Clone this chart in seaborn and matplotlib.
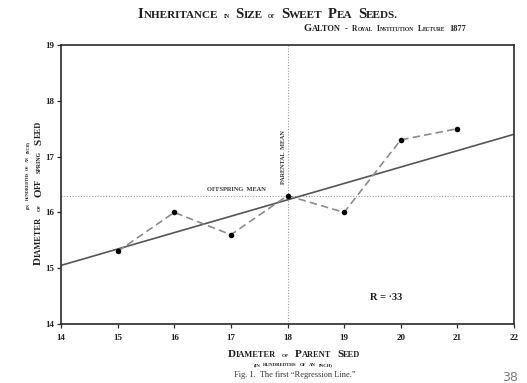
import matplotlib
matplotlib.use("Agg")
import matplotlib.pyplot as plt
import seaborn as sns
import pandas as pd

# Galton's sweet pea data (diameters in hundredths of an inch)
parent_diam = [15, 16, 17, 18, 19, 20, 21]
offspring_diam = [15.3, 16.0, 15.6, 16.3, 16.0, 17.3, 17.5]
reg_x = [14, 22]
reg_y = [15.05, 17.4]
parent_mean = 18
offspring_mean = 16.3
x_ticks = [14, 15, 16, 17, 18, 19, 20, 21, 22]
y_ticks = [14, 15, 16, 17, 18, 19]
r_label = "R = \u00b733"

W, H, DPI = 527, 383, 100
SERIF = "Liberation Serif"
INK = "#1e1e1e"

sns.set_theme(style="ticks")
plt.rcParams["font.family"] = [SERIF, "DejaVu Serif"]

fig = plt.figure(figsize=(W / DPI, H / DPI), dpi=DPI)
fig.patch.set_facecolor("white")
ax = fig.add_axes([61 / W, 1 - 324 / H, (514 - 61) / W, (324 - 45) / H])
ax.set_facecolor("white")

df = pd.DataFrame({"parent": parent_diam, "offspring": offspring_diam})
reg = pd.DataFrame({"x": reg_x, "y": reg_y})

# mean reference lines
ax.axhline(offspring_mean, color="#9a9a9a", lw=0.8, ls=(0, (1, 1.5)), zorder=1)
ax.axvline(parent_mean, color="#9a9a9a", lw=0.8, ls=(0, (1, 1.5)), zorder=1)

# regression line
sns.lineplot(data=reg, x="x", y="y", ax=ax, color="#555555", lw=1.2, zorder=2)
# observed means joined by a dashed line
sns.lineplot(data=df, x="parent", y="offspring", ax=ax, color="#8c8c8c",
             lw=1.2, dashes=False, zorder=3)
ax.lines[-1].set_dashes((4.5, 2.5))
sns.scatterplot(data=df, x="parent", y="offspring", ax=ax, color="black",
                s=16, edgecolor="black", linewidth=0, zorder=4)

ax.set_xlim(14, 22)
ax.set_ylim(14, 19)
ax.set_xticks(x_ticks)
ax.set_yticks(y_ticks)
ax.set_xticklabels([str(v) for v in x_ticks])
ax.set_yticklabels([str(v) for v in y_ticks])
ax.set_xlabel("")
ax.set_ylabel("")
for s in ax.spines.values():
    s.set_visible(True)
    s.set_color("#2a2a2a")
    s.set_linewidth(1.2)
ax.tick_params(axis="both", direction="out", length=3, width=0.9,
               colors="#2a2a2a", labelsize=6.5, pad=2)
for lab in ax.get_xticklabels() + ax.get_yticklabels():
    lab.set_fontweight("bold")
    lab.set_color(INK)
ax.tick_params(axis="x", pad=4)

ax.text(17.62, offspring_mean + 0.06, "OFFSPRING  MEAN", fontsize=4.6,
        fontweight="bold", color="#333333", ha="right", va="bottom")
ax.text(17.93, 16.5, "PARENTAL  MEAN", fontsize=4.4, fontweight="bold",
        color="#333333", rotation=90, rotation_mode="anchor",
        ha="left", va="center")
ax.text(19.45, 14.43, r_label, fontsize=7.5, fontweight="bold", color=INK,
        ha="left", va="baseline")

renderer = fig.canvas.get_renderer()


def sc(word, big, small):
    return [(word[0].upper(), big), (word[1:].upper(), small)]


def caps_line(x, y, tokens, gap=4.0, rotation=0, ha="center", color=INK,
              weight="bold"):
    """Place a row of small-caps pieces; x, y in pixels from top-left."""
    widths = []
    for group in tokens:
        gw = []
        for s, size in group:
            t = fig.text(0, 0, s, fontsize=size, fontweight=weight)
            gw.append(t.get_window_extent(renderer).width)
            t.remove()
        widths.append(gw)
    total = sum(sum(g) for g in widths) + gap * (len(tokens) - 1)
    pos = -total / 2 if ha == "center" else 0.0
    for group, gw in zip(tokens, widths):
        for (s, size), w in zip(group, gw):
            if rotation == 90:
                px, py = x, y - pos
            else:
                px, py = x + pos, y
            fig.text(px / W, 1 - py / H, s, fontsize=size, fontweight=weight,
                     color=color, rotation=rotation, rotation_mode="anchor",
                     ha="left", va="baseline")
            pos += w
        pos += gap


# title and subtitle
caps_line(268, 18, [sc("Inheritance", 10.5, 8), [("IN", 4)], sc("Size", 10.5, 8),
                    [("OF", 4)], sc("Sweet", 10.5, 8), sc("Pea", 10.5, 8),
                    sc("Seeds.", 10.5, 8)], gap=5.5)
caps_line(385, 31, [sc("Galton", 7.5, 6), [("-", 6.5)], sc("Royal", 5.5, 4),
                    sc("Institution", 5.5, 4), sc("Lecture", 5.5, 4),
                    [("1877", 6)]], gap=4)

# y axis label
caps_line(41, 193, [sc("Diameter", 8, 6), [("OF", 3.8)], sc("Off", 8, 6),
                    [("SPRING", 4.2)], sc("Seed", 8, 6)], gap=6, rotation=90)
caps_line(29, 175, [[("(IN", 3.0)], [("HUNDREDTHS", 3.0)], [("OF", 3.0)],
                    [("AN", 3.0)], [("INCH)", 3.0)]], gap=2.5, rotation=90)

# x axis label
caps_line(294, 357, [sc("Diameter", 8, 6), [("OF", 3.8)], sc("Parent", 8, 6),
                     sc("Seed", 8, 6)], gap=6)
caps_line(293, 366.5, [[("(IN", 3.4)], [("HUNDREDTHS", 3.4)], [("OF", 3.4)],
                       [("AN", 3.4)], [("INCH)", 3.4)]], gap=2.8)

fig.text(295 / W, 1 - 377 / H, "Fig. 1.  The first \u201cRegression Line.\u201d",
         fontsize=6, color="#333333", ha="center", va="baseline")
fig.text(510 / W, 1 - 381 / H, "38", fontsize=9, color="#7a7a7a",
         family="DejaVu Sans", ha="center", va="baseline")

fig.savefig("out.png", dpi=DPI, facecolor="white")
